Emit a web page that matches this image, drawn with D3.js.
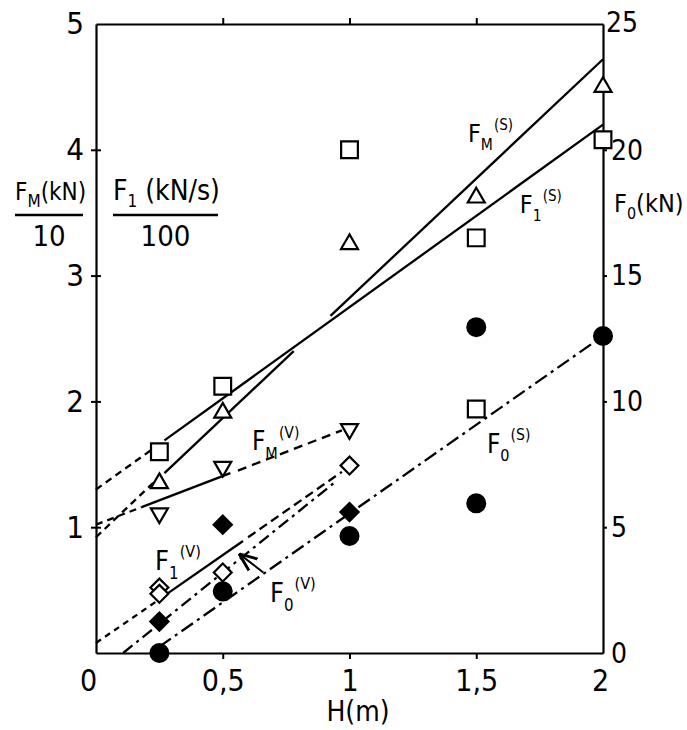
<!DOCTYPE html>
<html>
<head>
<meta charset="utf-8">
<script src="https://cdn.jsdelivr.net/npm/d3@7"></script>
<style>
  body { margin: 0; background: #fff; }
  text { font-family: 'Liberation Sans Narrow', 'DejaVu Sans Condensed', 'Arial Narrow', sans-serif; fill: #000; }
</style>
</head>
<body>
<div class="chart"></div>
<script>
// values
// left axis: F_M/10 (kN) and F_1/100 (kN/s), right axis: F_0 (kN)
var xTicks = [0, 0.5, 1, 1.5, 2];
var xTickLabels = ["0", "0,5", "1", "1,5", "2"];
var leftTicks = [1, 2, 3, 4, 5];
var rightTicks = [0, 5, 10, 15, 20, 25];

// open squares  F_1^(S)
var sqX = [0.25, 0.5, 1, 1.5, 1.5, 2];
var sqY = [1.6, 2.12, 4.0, 3.3, 1.94, 4.08];
// open triangles  F_M^(S)
var triX = [0.25, 0.5, 1, 1.5, 2];
var triY = [1.35, 1.91, 3.25, 3.62, 4.5];
// open inverted triangles  F_M^(V)
var invX = [0.25, 0.5, 1];
var invY = [1.11, 1.48, 1.78];
// open diamonds  F_1^(V)
var dOpenX = [0.25, 0.25, 0.5, 1];
var dOpenY = [0.52, 0.47, 0.64, 1.49];
// filled diamonds
var dFillX = [0.25, 0.5, 1];
var dFillY = [0.25, 1.02, 1.12];
// filled circles  F_0 (kN, right axis)
var circX = [0.25, 0.5, 1, 1.5, 1.5, 2];
var circY = [0, 2.45, 4.65, 12.95, 5.95, 12.6];

// fitted lines, segments [x0, y0, x1, y1], axis, dash
var fitLines = [
  {seg: [0, 1.3, 0.25, 1.66], axis: "L", dash: "7,5"},
  {seg: [0.27, 1.69, 2, 4.2], axis: "L", dash: null},
  {seg: [0, 0.92, 0.24, 1.38], axis: "L", dash: "7,5"},
  {seg: [0.27, 1.43, 0.78, 2.4], axis: "L", dash: null},
  {seg: [0.925, 2.68, 2, 4.72], axis: "L", dash: null},
  {seg: [0, 1.02, 0.18, 1.16], axis: "L", dash: "7,5"},
  {seg: [0.18, 1.16, 0.53, 1.43], axis: "L", dash: null},
  {seg: [0.56, 1.45, 0.97, 1.77], axis: "L", dash: "9,6"},
  {seg: [0, 0.08, 0.26, 0.44], axis: "L", dash: "6,5"},
  {seg: [0.28, 0.47, 0.58, 0.89], axis: "L", dash: null},
  {seg: [0.6, 0.92, 0.97, 1.44], axis: "L", dash: "9,5"},
  {seg: [0.107, 0, 0.95, 6.85], axis: "R", dash: "12,5,3,5"},
  {seg: [0.25, 0.25, 2, 12.6], axis: "R", dash: "14,5,3,5"}
];

// curve labels [x, y (left units), subscript, superscript, size]
var curveLabels = [
  [1.467, 4.06, "M", "(S)", 25],
  [1.672, 3.5, "1", "(S)", 25],
  [0.615, 1.61, "M", "(V)", 26],
  [0.233, 0.66, "1", "(V)", 27],
  [0.686, 0.405, "0", "(V)", 27],
  [1.542, 1.59, "0", "(S)", 26]
];
var arrowF0V = [0.66, 0.64, 0.57, 0.78];

var w = 687, h = 730;
var svg = d3.select(".chart").append("svg")
  .attr("width", w)
  .attr("height", h);

var x = d3.scaleLinear().domain([0, 2]).range([96, 603]);
var yL = d3.scaleLinear().domain([0, 5]).range([653, 24]);
var yR = d3.scaleLinear().domain([0, 25]).range([653, 24]);

// frame / axes
var axisBottom = svg.append("g")
  .attr("transform", "translate(0," + yL(0) + ")")
  .call(d3.axisBottom(x).tickValues(xTicks).tickSize(6).tickSizeOuter(0).tickPadding(11)
    .tickFormat(function(d, i) { return xTickLabels[i]; }));
axisBottom.selectAll(".tick line").attr("y2", function(d) { return (d == 0 || d == 2) ? 0 : 6; });
axisBottom.selectAll(".tick text").attr("dx", function(d) { return d == 0 ? -8 : (d == 2 ? -3 : 0); })
  .style("font-size", "30px");

var axisTop = svg.append("g")
  .attr("transform", "translate(0," + yL(5) + ")")
  .call(d3.axisTop(x).tickValues([0.5, 1, 1.5]).tickSize(6).tickSizeOuter(0).tickFormat(""));

var axisLeft = svg.append("g")
  .attr("transform", "translate(" + x(0) + ",0)")
  .call(d3.axisLeft(yL).tickValues(leftTicks).tickSize(5).tickSizeOuter(0).tickPadding(7)
    .tickFormat(d3.format("d")));
axisLeft.selectAll(".tick line").attr("x2", function(d) { return d == 5 ? 0 : 5; })
  .attr("x1", function(d) { return d == 5 ? 0 : -5; });
axisLeft.selectAll(".tick text").style("font-size", "31px");

var axisRight = svg.append("g")
  .attr("transform", "translate(" + x(2) + ",0)")
  .call(d3.axisRight(yR).tickValues(rightTicks).tickSize(4).tickSizeOuter(0).tickPadding(4)
    .tickFormat(d3.format("d")));
axisRight.selectAll(".tick line").attr("x2", function(d) { return (d == 0 || d == 25) ? 0 : 4; });
axisRight.selectAll(".tick text").style("font-size", "28px")
  .attr("x", function(d) { return d == 25 ? 3 : 8; })
  .attr("dy", function(d) { return d == 25 ? "0.25em" : "0.33em"; });

svg.selectAll(".domain").attr("stroke", "#000").attr("stroke-width", 2.2);
svg.selectAll(".tick line").attr("stroke", "#000").attr("stroke-width", 2);
svg.selectAll(".tick text").attr("font-family", null);

// fitted lines
svg.selectAll(".fit")
  .data(fitLines)
  .enter()
  .append("line")
  .attr("class", "fit")
  .attr("x1", function(d) { return x(d.seg[0]); })
  .attr("y1", function(d) { return (d.axis == "L" ? yL : yR)(d.seg[1]); })
  .attr("x2", function(d) { return x(d.seg[2]); })
  .attr("y2", function(d) { return (d.axis == "L" ? yL : yR)(d.seg[3]); })
  .attr("stroke", "#000")
  .attr("stroke-width", 2.3)
  .attr("stroke-dasharray", function(d) { return d.dash; });

// markers
function markers(xs, ys, yScale, type, size, rot, filled) {
  var pts = xs.map(function(v, i) { return [v, ys[i]]; });
  svg.append("g").selectAll("path")
    .data(pts)
    .enter()
    .append("path")
    .attr("d", d3.symbol().type(type).size(size))
    .attr("transform", function(d) {
      return "translate(" + x(d[0]) + "," + yScale(d[1]) + ") rotate(" + rot + ")";
    })
    .attr("fill", filled ? "#000" : "#fff")
    .attr("stroke", "#000")
    .attr("stroke-width", 2.2);
}
markers(sqX, sqY, yL, d3.symbolSquare, 280, 0, false);
markers(triX, triY, yL, d3.symbolTriangle, 125, 0, false);
markers(invX, invY, yL, d3.symbolTriangle, 125, 180, false);
markers(dFillX, dFillY, yL, d3.symbolSquare, 165, 45, true);
markers(dOpenX, dOpenY, yL, d3.symbolSquare, 160, 45, false);
markers(circX, circY, yR, d3.symbolCircle, 250, 0, true);

// arrow for F_0^(V)
svg.append("defs").append("marker")
  .attr("id", "arr").attr("viewBox", "0 0 10 10").attr("refX", 9).attr("refY", 5)
  .attr("markerWidth", 9).attr("markerHeight", 9).attr("orient", "auto")
  .append("path").attr("d", "M0,1 L10,5 L0,9").attr("fill", "none").attr("stroke", "#000").attr("stroke-width", 1.6);
svg.append("line")
  .attr("x1", x(arrowF0V[0])).attr("y1", yL(arrowF0V[1]))
  .attr("x2", x(arrowF0V[2])).attr("y2", yL(arrowF0V[3]))
  .attr("stroke", "#000").attr("stroke-width", 2)
  .attr("marker-end", "url(#arr)");

// curve labels
curveLabels.forEach(function(c) {
  var t = svg.append("text").attr("x", x(c[0])).attr("y", yL(c[1])).style("font-size", c[4] + "px");
  t.append("tspan").text("F");
  t.append("tspan").attr("dy", c[4] * 0.32).style("font-size", (c[4] * 0.62) + "px").text(c[2]);
  t.append("tspan").attr("dy", -c[4] * 0.8).attr("dx", 1).style("font-size", (c[4] * 0.6) + "px").text(c[3]);
});

// axis titles
function fracLabel(x0, x1, size, sub, unit, den) {
  var t = svg.append("text").attr("x", x0).attr("y", 200).style("font-size", size + "px");
  t.append("tspan").text("F");
  t.append("tspan").attr("dy", 7).style("font-size", "17px").text(sub);
  t.append("tspan").attr("dy", -7).text(unit);
  svg.append("line").attr("x1", x0).attr("x2", x1).attr("y1", 215).attr("y2", 215)
    .attr("stroke", "#000").attr("stroke-width", 2.5);
  svg.append("text").attr("x", (x0 + x1) / 2).attr("y", 246).attr("text-anchor", "middle")
    .style("font-size", "29px").text(den);
}
fracLabel(15, 83, 24, "M", "(kN)", "10");
fracLabel(113, 218, 28, "1", " (kN/s)", "100");

var f0 = svg.append("text").attr("x", 614).attr("y", 212).style("font-size", "25px");
f0.append("tspan").text("F");
f0.append("tspan").attr("dy", 7).style("font-size", "16px").text("0");
f0.append("tspan").attr("dy", -7).text("(kN)");

svg.append("text").attr("x", 358).attr("y", 721).attr("text-anchor", "middle")
  .style("font-size", "28px").text("H(m)");
</script>
</body>
</html>
